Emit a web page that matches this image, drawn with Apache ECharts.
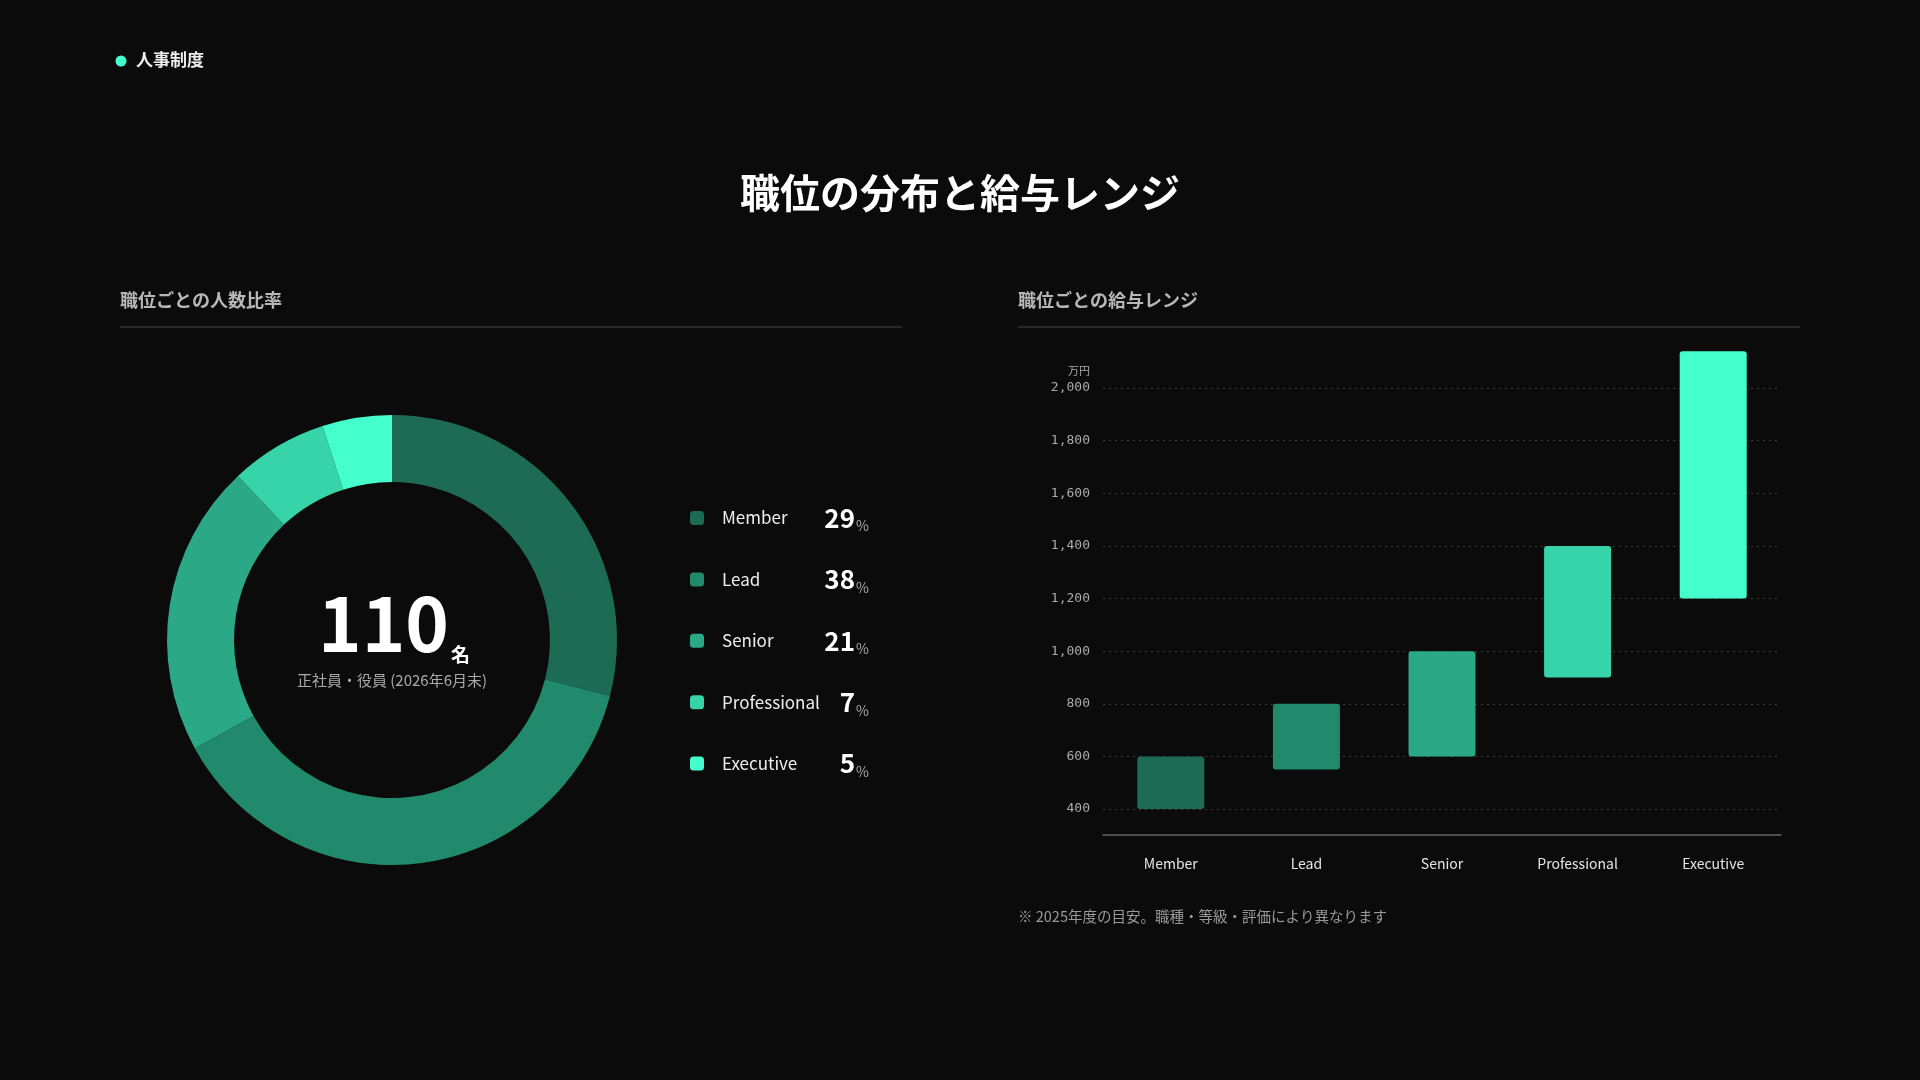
<!DOCTYPE html>
<html lang="ja">
<head>
<meta charset="utf-8">
<title>職位の分布と給与レンジ</title>
<script src="https://cdn.jsdelivr.net/npm/echarts@6/dist/echarts.min.js"></script>
<style>
  html, body { margin: 0; padding: 0; background: #0b0b0b; }
  #chart { width: 1920px; height: 1080px; }
</style>
</head>
<body>
<div id="chart"></div>
<script>
// 職位ごとのデータ
const grades = ['Member', 'Lead', 'Senior', 'Professional', 'Executive'];
const headcountPct = [29, 38, 21, 7, 5];
const salaryMin = [400, 550, 600, 900, 1200];
const salaryMax = [600, 800, 1000, 1400, 2140];
const yTicks = [400, 600, 800, 1000, 1200, 1400, 1600, 1800, 2000];
const gradeColors = ['#1e6b55', '#228a6c', '#2ba886', '#37d3a9', '#44ffcc'];

const FONT = '"Noto Sans CJK JP", "Noto Sans", sans-serif';
const MONO = '"DejaVu Sans Mono", "Liberation Mono", monospace';

const chart = echarts.init(document.getElementById('chart'));

chart.setOption({
  backgroundColor: '#0b0b0b',
  textStyle: { fontFamily: FONT },
  title: [
    {
      text: '人事制度', left: 136, top: 50, padding: 0,
      textStyle: { color: '#eeeeee', fontSize: 17, fontWeight: 'bold', fontFamily: FONT, lineHeight: 20 }
    },
    {
      text: '職位の分布と給与レンジ', left: 960, top: 171, padding: 0, textAlign: 'center',
      textStyle: { color: '#ffffff', fontSize: 40, fontWeight: 'bold', fontFamily: FONT, lineHeight: 44 }
    },
    {
      text: '職位ごとの人数比率', left: 120, top: 289, padding: 0,
      textStyle: { color: '#b8b8b8', fontSize: 18, fontWeight: 'bold', fontFamily: FONT, lineHeight: 22 }
    },
    {
      text: '職位ごとの給与レンジ', left: 1018, top: 289, padding: 0,
      textStyle: { color: '#b8b8b8', fontSize: 18, fontWeight: 'bold', fontFamily: FONT, lineHeight: 22 }
    },
    {
      text: '{n|110}{u|名}', left: 394, top: 584, padding: 0, textAlign: 'center',
      textStyle: {
        rich: {
          n: { color: '#ffffff', fontSize: 74, fontWeight: 'bold', fontFamily: FONT, lineHeight: 80, padding: [0, 2, 0, 0] },
          u: { color: '#ffffff', fontSize: 19, fontWeight: 'bold', fontFamily: FONT, lineHeight: 80, verticalAlign: 'bottom' }
        }
      }
    },
    {
      text: '正社員・役員 (2026年6月末)', left: 392, top: 670, padding: 0, textAlign: 'center',
      textStyle: { color: '#aaaaaa', fontSize: 15, fontWeight: 'normal', fontFamily: FONT, lineHeight: 20 }
    },
    {
      text: '※ 2025年度の目安。職種・等級・評価により異なります', left: 1018, top: 906, padding: 0,
      textStyle: { color: '#999999', fontSize: 14.5, fontWeight: 'normal', fontFamily: FONT, lineHeight: 20 }
    }
  ],
  graphic: [
    { type: 'circle', shape: { cx: 121, cy: 61, r: 5.5 }, style: { fill: '#44ffcc' } },
    { type: 'line', shape: { x1: 120, y1: 327, x2: 902, y2: 327 }, style: { stroke: '#333333', lineWidth: 1.5 } },
    { type: 'line', shape: { x1: 1018, y1: 327, x2: 1800, y2: 327 }, style: { stroke: '#333333', lineWidth: 1.5 } }
  ],
  legend: {
    orient: 'vertical',
    left: 690,
    top: 505,
    padding: 0,
    icon: 'roundRect',
    itemWidth: 14,
    itemHeight: 14,
    itemGap: 33.4,
    selectedMode: false,
    data: grades,
    formatter: function (name) {
      const i = grades.indexOf(name);
      return '{n|' + name + '}{p|' + headcountPct[i] + '}{u|%}';
    },
    textStyle: {
      rich: {
        n: { color: '#eeeeee', fontSize: 17, fontFamily: FONT, width: 105, padding: [0, 0, 0, 13], lineHeight: 30 },
        p: { color: '#ffffff', fontSize: 26, fontWeight: 'bold', fontFamily: FONT, width: 28, align: 'right', lineHeight: 30 },
        u: { color: '#aaaaaa', fontSize: 14, fontFamily: FONT, lineHeight: 30, align: 'right', verticalAlign: 'bottom', padding: [0, 0, 0, 1] }
      }
    }
  },
  grid: { left: 1103, right: 139, top: 388, bottom: 271 },
  xAxis: {
    type: 'category',
    data: grades,
    offset: 26,
    axisLine: { lineStyle: { color: '#666666', width: 1.5 } },
    axisTick: { show: false },
    axisLabel: { color: '#e6e6e6', fontSize: 14, fontFamily: FONT, margin: 22 }
  },
  yAxis: {
    type: 'value',
    min: 400,
    max: 2000,
    interval: 200,
    name: '万円',
    nameLocation: 'end',
    nameGap: 12,
    nameTextStyle: { color: '#aaaaaa', fontSize: 11, fontFamily: FONT, align: 'right', padding: [0, 13, 0, 0] },
    axisLine: { show: false },
    axisTick: { show: false },
    axisLabel: {
      color: '#aaaaaa', fontSize: 13, fontFamily: MONO, margin: 13,
      formatter: function (v) { return yTicks.indexOf(v) >= 0 ? v.toLocaleString('en-US') : ''; }
    },
    splitLine: { lineStyle: { color: '#3c3c3c', type: [2, 4], width: 1 } }
  },
  series: [
    {
      name: '人数比率',
      type: 'pie',
      center: [392, 640],
      radius: [158, 225],
      startAngle: 90,
      clockwise: true,
      silent: true,
      label: { show: false },
      labelLine: { show: false },
      data: grades.map((g, i) => ({ name: g, value: headcountPct[i], itemStyle: { color: gradeColors[i] } }))
    },
    {
      name: 'base',
      type: 'bar',
      stack: 'salary',
      silent: true,
      barWidth: 67,
      itemStyle: { color: 'transparent' },
      data: salaryMin
    },
    {
      name: '給与レンジ',
      type: 'bar',
      stack: 'salary',
      barWidth: 67,
      clip: false,
      data: grades.map((g, i) => ({
        value: salaryMax[i] - salaryMin[i],
        itemStyle: { color: gradeColors[i], borderRadius: 3 }
      }))
    }
  ]
});
</script>
</body>
</html>
